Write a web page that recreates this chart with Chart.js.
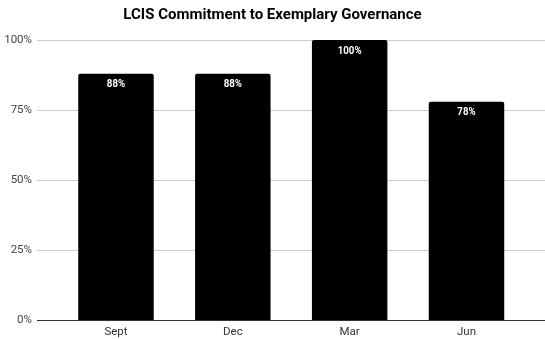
<!DOCTYPE html>
<html>
<head>
<meta charset="utf-8">
<script src="https://cdn.jsdelivr.net/npm/chart.js@4"></script>
<style>
  html, body { margin: 0; padding: 0; background: #fff; }
  canvas { display: block; }
</style>
</head>
<body>
<canvas id="chart" width="545" height="339"></canvas>
<script>
const chartTitle = 'LCIS Commitment to Exemplary Governance';
const categories = ['Sept', 'Dec', 'Mar', 'Jun'];
const scores = [88, 88, 100, 78];
const yTicks = [0, 25, 50, 75, 100];

// White percentage labels just inside the top of each bar
const barLabels = {
  id: 'barLabels',
  afterDatasetsDraw(chart) {
    const { ctx } = chart;
    const meta = chart.getDatasetMeta(0);
    ctx.save();
    ctx.fillStyle = '#ffffff';
    ctx.font = 'bold 11px Roboto';
    ctx.textAlign = 'center';
    ctx.textBaseline = 'middle';
    meta.data.forEach((bar, i) => {
      ctx.save();
      ctx.translate(bar.x, bar.y + 11);
      ctx.scale(0.88, 1);
      ctx.fillText(scores[i] + '%', 0, 0);
      ctx.restore();
    });
    ctx.restore();
  }
};

Chart.defaults.font.family = 'Roboto';

new Chart(document.getElementById('chart'), {
  type: 'bar',
  data: {
    datasets: [{
      data: categories.map((c, i) => ({ x: i, y: scores[i] })),
      backgroundColor: '#000000',
      borderRadius: 2,
      barPercentage: 0.646,
      categoryPercentage: 1
    }]
  },
  options: {
    responsive: false,
    animation: false,
    devicePixelRatio: 1,
    layout: { padding: { left: 0, right: 0, top: 0, bottom: 0 } },
    plugins: {
      legend: { display: false },
      tooltip: { enabled: false },
      title: {
        display: true,
        text: chartTitle,
        color: '#000000',
        font: { family: 'Roboto', size: 15, weight: 'bold' },
        padding: { top: 6, bottom: 16 }
      }
    },
    scales: {
      x: {
        type: 'linear',
        offset: false,
        min: -0.676,
        max: 3.672,
        grid: { display: false, drawTicks: false, offset: false },
        border: { display: true, color: '#333333', width: 1 },
        afterBuildTicks(scale) {
          scale.ticks = categories.map((c, i) => ({ value: i }));
        },
        afterFit(scale) {
          scale.height = 18.5;
        },
        ticks: {
          padding: 5,
          color: '#333333',
          font: { size: 11.5 },
          autoSkip: false,
          maxRotation: 0,
          callback: (v) => categories[v] ?? ''
        }
      },
      y: {
        min: 0,
        max: 100,
        afterBuildTicks(scale) {
          scale.ticks = yTicks.map(v => ({ value: v }));
        },
        afterFit(scale) {
          scale.width = 37;
        },
        grid: {
          drawTicks: false,
          color: (ctx) => (ctx.tick && ctx.tick.value === 0) ? '#333333' : '#cccccc'
        },
        border: { display: false },
        ticks: {
          padding: 5,
          color: '#444444',
          font: { size: 11.5 },
          callback: (v) => v + '%'
        }
      }
    }
  },
  plugins: [barLabels]
});
</script>
</body>
</html>
